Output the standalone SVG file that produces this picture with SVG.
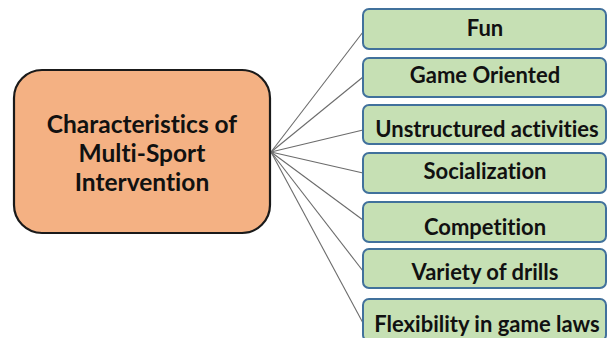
<svg xmlns="http://www.w3.org/2000/svg" width="608" height="338" viewBox="0 0 608 338">
  <style>
    .hub { fill: #F4B183; stroke: #1a1a1a; stroke-width: 2.2; }
    .leaf { fill: #C6E0B4; stroke: #41719C; stroke-width: 2; }
    text { font-variant-ligatures: none; }
    .hub-text { font-family: Lato, "Liberation Sans", sans-serif; font-weight: bold; font-size: 24.5px; fill: #111; text-anchor: middle; }
    .leaf-text { font-family: Lato, "Liberation Sans", sans-serif; font-weight: bold; font-size: 22px; fill: #111; text-anchor: middle; }
    .link { stroke: #6b6b6b; stroke-width: 1.1; fill: none; }
  </style>
  <rect width="608" height="338" fill="#ffffff"/>

  <!-- connectors fanning out from the hub -->
  <g id="connectors">
    <line class="link" x1="271" y1="152" x2="363" y2="32"/>
    <line class="link" x1="271" y1="152" x2="363" y2="77"/>
    <line class="link" x1="271" y1="152" x2="363" y2="130"/>
    <line class="link" x1="271" y1="152" x2="363" y2="173"/>
    <line class="link" x1="271" y1="152" x2="363" y2="220"/>
    <line class="link" x1="271" y1="152" x2="363" y2="271"/>
    <line class="link" x1="271" y1="152" x2="363" y2="323"/>
  </g>

  <g id="hub">
    <rect class="hub" x="14" y="70" width="256" height="163" rx="28" ry="28"/>
    <text class="hub-text" x="142" y="133">Characteristics of</text>
    <text class="hub-text" x="142" y="162">Multi-Sport</text>
    <text class="hub-text" x="142" y="191">Intervention</text>
  </g>

  <g id="fun">
    <rect class="leaf" x="363" y="9" width="243" height="40" rx="6"/>
    <text class="leaf-text" x="485" y="36">Fun</text>
  </g>
  <g id="game-oriented">
    <rect class="leaf" x="363" y="58" width="243" height="39" rx="6"/>
    <text class="leaf-text" x="485" y="83">Game Oriented</text>
  </g>
  <g id="unstructured-activities">
    <rect class="leaf" x="363" y="105" width="243" height="39" rx="6"/>
    <text class="leaf-text" x="487" y="137">Unstructured activities</text>
  </g>
  <g id="socialization">
    <rect class="leaf" x="363" y="153" width="243" height="40" rx="6"/>
    <text class="leaf-text" x="485" y="179">Socialization</text>
  </g>
  <g id="competition">
    <rect class="leaf" x="363" y="202" width="243" height="40" rx="6"/>
    <text class="leaf-text" x="485" y="235">Competition</text>
  </g>
  <g id="variety-of-drills">
    <rect class="leaf" x="363" y="249" width="243" height="39" rx="6"/>
    <text class="leaf-text" x="485" y="280">Variety of drills</text>
  </g>
  <g id="flexibility-in-game-laws">
    <rect class="leaf" x="363" y="299" width="243" height="42" rx="6"/>
    <text class="leaf-text" x="487" y="332">Flexibility in game laws</text>
  </g>
</svg>
